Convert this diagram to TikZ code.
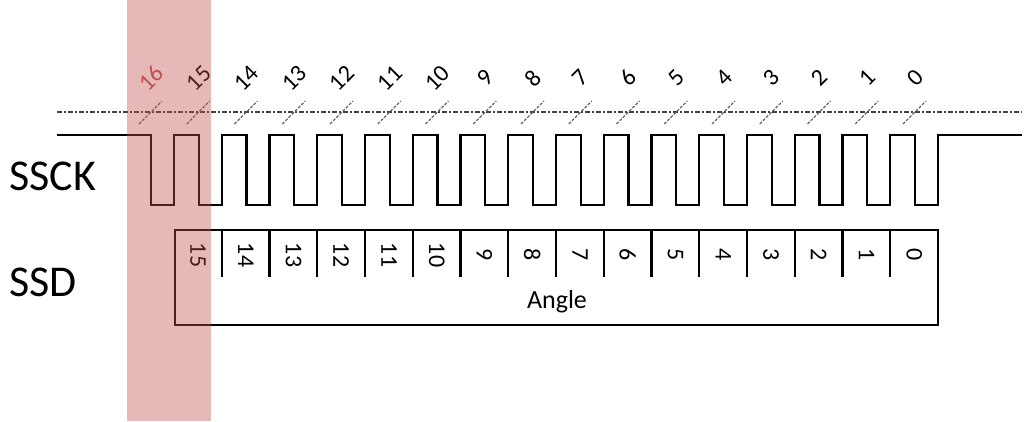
\documentclass[tikz,border=0pt]{standalone}
\usepackage{fontspec}
\setmainfont{Carlito}
\usetikzlibrary{positioning}
\definecolor{bandred}{RGB}{192,80,77}

\begin{document}
\begin{tikzpicture}[x=1pt,y=-1pt,
  every node/.style={inner sep=0pt,font=\fontsize{24}{24}\selectfont}]
  \useasboundingbox (0,0) rectangle (1024,421);

  % Reference line and bit ticks
  \draw[gray!50!black,line width=1.4pt,dash pattern=on 5pt off 2pt on 2pt off 2pt]
    (57,112) -- (1022,112);
  \foreach \i in {0,...,16} {
    \pgfmathtruncatemacro{\n}{16-\i}
    \draw[gray!80!black,line width=1.2pt,dash pattern=on 3pt off 1.5pt]
      ({139+47.75*\i},124) -- ({162+47.75*\i},101);
    \ifnum\n=16
      \node[rotate=45,text=bandred] (t\n) at ({151+47.75*\i},78) {\n};
    \else
      \node[rotate=45] (t\n) at ({151+47.75*\i},78) {\n};
    \fi
  }

  % Clock
  \draw[line width=2.4pt] (57,135)
    \foreach \i in {0,...,16} {
      -- ({151+47.75*\i},135) -- ({151+47.75*\i},205)
      -- ({174+47.75*\i},205) -- ({174+47.75*\i},135)
    } -- (1022,135);
  \node[anchor=west,font=\fontsize{44}{44}\selectfont] (ssck) at (9,176) {SSCK};

  % Data word
  \draw[line width=2.4pt] (175,230) rectangle (938,325);
  \foreach \i in {0,...,15} {
    \pgfmathtruncatemacro{\n}{15-\i}
    \node[rotate=-90] (c\n) at ({198+47.75*\i},255) {\n};
  }
  \foreach \i in {1,...,15} {
    \draw[line width=2.4pt] ({174+47.75*\i},230) -- ({174+47.75*\i},277);
  }
  \node[font=\fontsize{26}{26}\selectfont] (angle) at (557,302) {Angle};
  \node[anchor=west,font=\fontsize{44}{44}\selectfont] (ssd) at (9,282) {SSD};

  % Highlight of bit 16
  \fill[bandred,opacity=0.4] (127,0) rectangle (211,421);
\end{tikzpicture}
\end{document}
